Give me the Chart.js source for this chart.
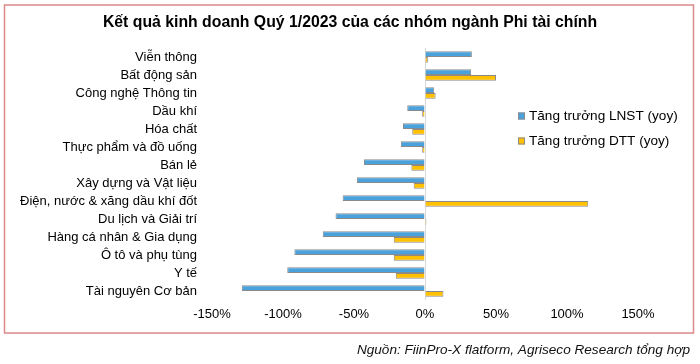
<!DOCTYPE html>
<html>
<head>
<meta charset="utf-8">
<script src="https://cdn.jsdelivr.net/npm/chart.js@4"></script>
<style>
  html, body { margin: 0; padding: 0; background: #fff; }
  #wrap { width: 700px; height: 364px; }
</style>
</head>
<body>
<div id="wrap"><canvas id="myChart" width="700" height="364"></canvas></div>
<script>
  var categories = [
    "Viễn thông",
    "Bất động sản",
    "Công nghệ Thông tin",
    "Dầu khí",
    "Hóa chất",
    "Thực phẩm và đồ uống",
    "Bán lẻ",
    "Xây dựng và Vật liệu",
    "Điện, nước & xăng dầu khí đốt",
    "Du lịch và Giải trí",
    "Hàng cá nhân & Gia dụng",
    "Ô tô và phụ tùng",
    "Y tế",
    "Tài nguyên Cơ bản"
  ];
  // % yoy
  var lnst = [33, 32.5, 6.5, -12.5, -15.5, -17, -43, -48, -58, -63, -72, -92, -97, -129];
  var dtt = [2, 50, 7.5, -2, -9, -2, -9.6, -8, 115, 1, -22, -22, -20.6, 13];
  var xTicks = [-150, -100, -50, 0, 50, 100, 150];

  var FONT = "'Liberation Sans', Arial, sans-serif";
  var blue = '#4aa2dc';
  var gold = '#ffc000';

  // title, legend, source line and frame
  var decor = {
    id: 'decor',
    afterDraw: function (chart) {
      var c = chart.ctx;
      c.save();
      c.strokeStyle = '#dd8888';
      c.lineWidth = 1.5;
      c.strokeRect(4.5, 5, 689, 328);

      c.fillStyle = '#000';
      c.font = 'bold 15.8px ' + FONT;
      c.textAlign = 'center';
      c.textBaseline = 'middle';
      c.fillText('Kết quả kinh doanh Quý 1/2023 của các nhóm ngành Phi tài chính', 350, 23);

      var items = [
        ['Tăng trưởng LNST (yoy)', blue, 116],
        ['Tăng trưởng DTT (yoy)', gold, 141]
      ];
      c.font = '13.6px ' + FONT;
      c.textAlign = 'left';
      items.forEach(function (it) {
        c.fillStyle = it[1];
        c.fillRect(518, it[2] - 3.5, 7, 7);
        c.strokeStyle = '#8c8c8c';
        c.lineWidth = 1;
        c.strokeRect(518.5, it[2] - 3, 6, 6);
        c.fillStyle = '#000';
        c.fillText(it[0], 529, it[2]);
      });

      c.font = 'italic 13.6px ' + FONT;
      c.textAlign = 'right';
      c.fillStyle = '#111';
      c.fillText('Nguồn: FiinPro-X flatform, Agriseco Research tổng hợp', 690, 350);
      c.restore();
    }
  };

  var ctx = document.getElementById('myChart');
  var myChart = new Chart(ctx, {
    type: 'bar',
    data: {
      labels: categories,
      datasets: [
        {
          label: 'Tăng trưởng LNST (yoy)',
          data: lnst,
          backgroundColor: blue,
          borderColor: '#8a8a8a',
          borderWidth: 1,
          barPercentage: 1,
          categoryPercentage: 0.64
        },
        {
          label: 'Tăng trưởng DTT (yoy)',
          data: dtt,
          backgroundColor: gold,
          borderColor: '#8a8a8a',
          borderWidth: 1,
          barPercentage: 1,
          categoryPercentage: 0.64
        }
      ]
    },
    options: {
      indexAxis: 'y',
      responsive: false,
      animation: false,
      events: [],
      layout: { padding: { top: 48, right: 62, left: 0, bottom: 0 } },
      plugins: {
        legend: { display: false },
        title: { display: false },
        tooltip: { enabled: false }
      },
      scales: {
        x: {
          min: -150,
          max: 150,
          afterBuildTicks: function (scale) {
            scale.ticks = xTicks.map(function (v) { return { value: v }; });
          },
          afterFit: function (scale) { scale.height = 64; },
          border: { display: false },
          grid: {
            drawTicks: false,
            color: function (c) { return c.tick && c.tick.value === 0 ? '#d9d9d9' : 'rgba(0,0,0,0)'; }
          },
          ticks: {
            padding: 7,
            color: '#000',
            font: { family: FONT, size: 13 },
            callback: function (v) { return v + '%'; }
          }
        },
        y: {
          afterFit: function (scale) { scale.width = 212; },
          border: { display: false },
          grid: { display: false, drawTicks: false },
          ticks: {
            padding: 15,
            color: '#000',
            font: { family: FONT, size: 13 },
            autoSkip: false
          }
        }
      }
    },
    plugins: [decor]
  });
</script>
</body>
</html>
